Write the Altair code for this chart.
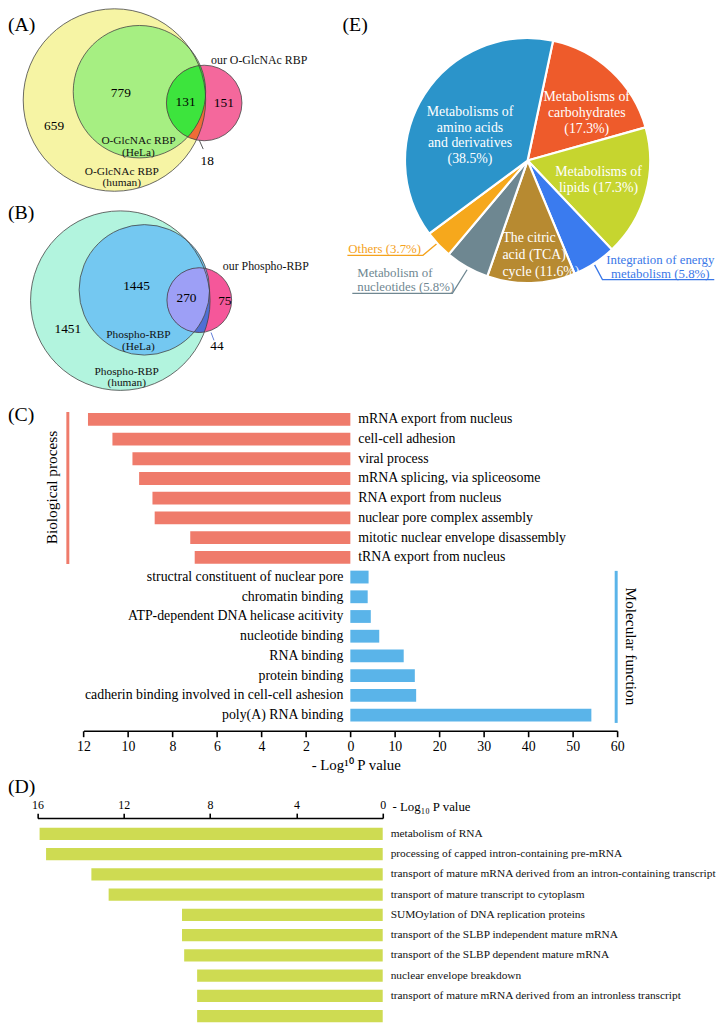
import altair as alt
import numpy as np
import pandas as pd

# ---------------- data ----------------
venn_a_counts = [659, 779, 131, 151, 18]
venn_a_names = ["O-GlcNAc RBP\n(human)", "O-GlcNAc RBP\n(HeLa)", "our O-GlcNAc RBP"]
venn_b_counts = [1451, 1445, 270, 75, 44]
venn_b_names = ["Phospho-RBP\n(human)", "Phospho-RBP\n(HeLa)", "our Phospho-RBP"]

pie_pct = [17.3, 17.3, 5.8, 11.6, 5.8, 3.7, 38.5]
pie_text = [
    "Metabolisms of\ncarbohydrates\n({p}%)",
    "Metabolisms of\nlipids ({p}%)",
    "Integration of energy\nmetabolism ({p}%)",
    "The citric\nacid (TCA)\ncycle ({p}%)",
    "Metabolism of\nnucleotides ({p}%)",
    "Others ({p}%)",
    "Metabolisms of\namino acids\nand derivatives\n({p}%)",
]
pie_colors = ["#EE5B2B", "#C6D52F", "#3A7BEF", "#B78A31", "#6E8791", "#F6A81C", "#2B94CA"]

bp_terms = ["mRNA export from nucleus", "cell-cell adhesion", "viral process",
            "mRNA splicing, via spliceosome", "RNA export from nucleus",
            "nuclear pore complex assembly", "mitotic nuclear envelope disassembly",
            "tRNA export from nucleus"]
bp_vals = [11.8, 10.7, 9.8, 9.5, 8.9, 8.8, 7.2, 7.0]
mf_terms = ["structral constituent of nuclear pore", "chromatin binding",
            "ATP-dependent DNA helicase acitivity", "nucleotide binding", "RNA binding",
            "protein binding", "cadherin binding involved in cell-cell ashesion",
            "poly(A) RNA binding"]
mf_vals = [4.1, 3.9, 4.6, 6.5, 12.0, 14.5, 14.8, 54.2]
c_ticks_left = [12, 10, 8, 6, 4, 2, 0]
c_ticks_right = [10, 20, 30, 40, 50, 60]
c_title = "- Log\u00b9\u2070 P value"

d_terms = ["metabolism of RNA", "processing of capped intron-containing pre-mRNA",
           "transport of mature mRNA derived from an intron-containing transcript",
           "transport of mature transcript to cytoplasm",
           "SUMOylation of DNA replication proteins",
           "transport of the SLBP independent mature mRNA",
           "transport of the SLBP dependent mature mRNA",
           "nuclear envelope breakdown",
           "transport of mature mRNA derived from an intronless transcript",
           ""]
d_vals = [15.9, 15.6, 13.5, 12.7, 9.3, 9.3, 9.2, 8.6, 8.6, 8.6]
d_ticks = [16, 12, 8, 4, 0]
d_title = "- Log\u2081\u2080 P value"

# ---------------- layout (pixels of the reference picture) ----------------
W, H = 717, 1024
K, O = 0.992, 2.0
SERIF = "Liberation Serif"
PXS = alt.Scale(domain=[O, O + W / K], range=[0, W], nice=False, zero=False)
PYS = alt.Scale(domain=[O, O + H / K], range=[0, H], nice=False, zero=False)


def X(v):
    return (v - O) * K


def Y(v):
    return (v - O) * K


circA = [(110.5, 90.0, 93.0, "#F6F4A4"), (136.0, 81.5, 67.5, "#A6EF82"), (202.0, 93.0, 38.5, "#F4689C")]
circB = [(116.5, 294.5, 91.5, "#B2F4DE"), (141.0, 283.5, 66.5, "#74C8F1"), (197.0, 294.0, 33.0, "#F5579A")]
lenses = [(circA[2], circA[0], "#EF6B37"), (circA[2], circA[1], "#3DE43D"),
          (circB[2], circB[0], "#4F6FD4"), (circB[2], circB[1], "#9D9FF6")]

a_num_pos = [(49, 117), (117, 83), (183, 92), (222, 93), (205, 152)]
b_num_pos = [(63, 323), (133, 280), (184, 292), (223, 295), (215, 341)]
pie_center = (531.7, 151.7)
pie_r = 125
pie_start = np.deg2rad(12.0)
pie_lab = [  # x, y (block centre), align, lineHeight, size, color
    (592, 103, "center", 16, 14, "white"),
    (604, 171.5, "center", 17, 14, "white"),
    (667, 260, "center", 14, 13, "#3A78E8"),
    (506, 248, "left", 17.5, 14, "white"),
    (358, 273.5, "left", 13.5, 13, "#6F8791"),
    (386, 242, "center", 13, 13, "#F5A21C"),
    (473, 126, "center", 16, 14, "white"),
]
leaders = [
    ([(197, 131), (201, 140)], "#444444", 0.9),
    ([(209, 327), (212, 335)], "#4F6FD4", 0.9),
    ([(348, 248.3), (425, 248.3), (447, 230)], "#F5A21C", 1.3),
    ([(353, 287), (455, 287), (470, 263)], "#6F8791", 1.3),
    ([(722, 273), (608, 273), (600, 258)], "#3A78E8", 1.3),
]

# ---------------- helpers ----------------
def lens_df(c1, c2, step=0.25):
    x1, y1, r1, _ = c1
    x2, y2, r2, _ = c2
    xs = np.arange(max(x1 - r1, x2 - r2), min(x1 + r1, x2 + r2) + step, step)
    d1 = np.sqrt(np.clip(r1 ** 2 - (xs - x1) ** 2, 0, None))
    d2 = np.sqrt(np.clip(r2 ** 2 - (xs - x2) ** 2, 0, None))
    top = np.maximum(y1 - d1, y2 - d2)
    bot = np.minimum(y1 + d1, y2 + d2)
    m = top < bot
    return pd.DataFrame({"x": xs[m], "top": top[m], "bot": bot[m]})


def pos(df_x="x", df_y="y"):
    return dict(x=alt.X(f"{df_x}:Q", scale=PXS, axis=None),
                y=alt.Y(f"{df_y}:Q", scale=PYS, axis=None))


layers = []

# ---- Venn circles ----
circ_df = pd.DataFrame([{"x": c[0], "y": c[1], "s": (2 * c[2] * K) ** 2, "fill": c[3]}
                        for c in circA + circB])
layers.append(alt.Chart(circ_df).mark_point(shape="circle", filled=True, opacity=1, strokeWidth=0).encode(
    **pos(), size=alt.Size("s:Q", scale=None, legend=None),
    color=alt.Color("fill:N", scale=None, legend=None)))
for c1, c2, col in lenses:
    layers.append(alt.Chart(lens_df(c1, c2)).mark_area(color=col, opacity=1).encode(
        x=alt.X("x:Q", scale=PXS, axis=None),
        y=alt.Y("top:Q", scale=PYS, axis=None), y2="bot:Q"))
layers.append(alt.Chart(circ_df).mark_point(shape="circle", filled=False, opacity=1,
                                            strokeWidth=0.8, color="#444444").encode(
    **pos(), size=alt.Size("s:Q", scale=None, legend=None)))

# ---- leader lines ----
for pts, col, w in leaders:
    ldf = pd.DataFrame({"x": [p[0] for p in pts], "y": [p[1] for p in pts], "o": range(len(pts))})
    layers.append(alt.Chart(ldf).mark_line(color=col, strokeWidth=w).encode(**pos(), order="o:Q"))

# ---- pie ----
pie_df = pd.DataFrame({"pct": pie_pct, "col": pie_colors, "idx": range(len(pie_pct)),
                       "x": pie_center[0], "y": pie_center[1]})
layers.append(alt.Chart(pie_df).mark_arc(outerRadius=pie_r * K, stroke="white", strokeWidth=2.2).encode(
    **pos(),
    theta=alt.Theta("pct:Q", stack=True,
                    scale=alt.Scale(domain=[0, 100], range=[pie_start, pie_start + 2 * np.pi])),
    order=alt.Order("idx:Q"),
    color=alt.Color("col:N", scale=None, legend=None)))

# ---- text items ----
texts = []  # x, y, text, size, color, align, lh, angle


def T(x, y, s, size, color="black", align="center", lh=None, angle=0):
    lh = lh if lh else round(size * 1.15, 1)
    n = s.count("\n") + 1
    y0 = y - (n - 1) * lh / 2.0  # y is the centre of the whole block
    texts.append(dict(x=x, y=y0, text=s, size=size, color=color, align=align, lh=lh, angle=angle))


for n, (x, y) in zip(venn_a_counts, a_num_pos):
    T(x, y, str(n), 13.5)
for n, (x, y) in zip(venn_b_counts, b_num_pos):
    T(x, y, str(n), 13.5)
T(118, 169, venn_a_names[0], 11.5, "#111111", lh=11.5)
T(135, 138, venn_a_names[1], 11.5, "#111111", lh=11.5)
T(209, 49, venn_a_names[2], 12, "#111111", "left")
T(123, 373, venn_b_names[0], 11.5, "#111111", lh=11.5)
T(135, 335.5, venn_b_names[1], 11.5, "#111111", lh=11.5)
T(221, 259, venn_b_names[2], 12, "#111111", "left")
for (x, y, al, lh, sz, col), t, p in zip(pie_lab, pie_text, pie_pct):
    T(x, y, t.format(p=p), sz, col, al, lh)
T(2, 14, "(A)", 20, align="left")
T(2, 205, "(B)", 20, align="left")
T(343, 14, "(E)", 20, align="left")
T(2, 411, "(C)", 20, align="left")
T(2, 790, "(D)", 20, align="left")
T(46.5, 485, "Biological process", 15.5, angle=270)
T(637, 647, "Molecular function", 15.5, angle=90)
T(357, 768, c_title, 15)
T(394, 811, d_title, 13, align="left")

tdf = pd.DataFrame(texts)
for (al, lh, ang), g in tdf.groupby(["align", "lh", "angle"]):
    kw = dict(align=al, baseline="middle", font=SERIF, lineBreak="\n", lineHeight=float(lh))
    if ang:
        kw["angle"] = float(ang)
    layers.append(alt.Chart(g.reset_index(drop=True)).mark_text(**kw).encode(
        **pos(), text="text:N",
        size=alt.Size("size:Q", scale=None, legend=None),
        color=alt.Color("color:N", scale=None, legend=None)))

# ---- panel C ----
ax_common = dict(domainColor="black", domainWidth=1.6, tickColor="black", tickWidth=1.6,
                 labelColor="black", labelFont=SERIF, grid=False, title=None,
                 labelOverlap=False, labelFlush=False)
cy = alt.Scale(domain=bp_terms + mf_terms, range=[Y(405.45), Y(727.05)],
               paddingInner=0.35, paddingOuter=0.175)
bpx = alt.Scale(domain=[12, 0], range=[X(79), X(351)], nice=False)
mfx = alt.Scale(domain=[0, 60], range=[X(351), X(623)], nice=False)
bp_df = pd.DataFrame({"term": bp_terms, "val": bp_vals, "zero": 0.0})
mf_df = pd.DataFrame({"term": mf_terms, "val": mf_vals, "zero": 0.0})

layers.append(alt.Chart(bp_df).mark_bar(color="#EF7B6B").encode(
    x=alt.X("val:Q", scale=bpx, axis=alt.Axis(orient="bottom", offset=Y(733) - H, values=c_ticks_left,
                                              tickSize=6, labelFontSize=14, labelPadding=3, **ax_common)),
    y=alt.Y("term:N", scale=cy, axis=None)))
layers.append(alt.Chart(mf_df).mark_bar(color="#5AB4E9").encode(
    x=alt.X("val:Q", scale=mfx, axis=alt.Axis(orient="bottom", offset=Y(733) - H, values=c_ticks_right,
                                              tickSize=6, labelFontSize=14, labelPadding=3, **ax_common)),
    y=alt.Y("term:N", scale=cy, axis=None)))
layers.append(alt.Chart(bp_df).mark_text(align="left", baseline="middle", dx=8, font=SERIF,
                                         fontSize=14, color="black").encode(
    x=alt.X("zero:Q", scale=bpx, axis=None), y=alt.Y("term:N", scale=cy, axis=None), text="term:N"))
layers.append(alt.Chart(mf_df).mark_text(align="right", baseline="middle", dx=-7, font=SERIF,
                                         fontSize=14, color="black").encode(
    x=alt.X("zero:Q", scale=mfx, axis=None), y=alt.Y("term:N", scale=cy, axis=None), text="term:N"))
side_df = pd.DataFrame({"x": [63, 622], "y": [408, 570], "y2": [563, 725], "col": ["#EF7B6B", "#5AB4E9"]})
layers.append(alt.Chart(side_df).mark_rule(strokeWidth=3).encode(
    **pos(), y2="y2:Q", color=alt.Color("col:N", scale=None, legend=None)))

# ---- panel D ----
d_keys = [f"k{i:02d}" for i in range(len(d_terms))]
d_df = pd.DataFrame({"key": d_keys, "label": d_terms, "val": d_vals, "zero": 0.0})
dys = alt.Scale(domain=d_keys, range=[Y(827.7), Y(1034.3)], paddingInner=0.4, paddingOuter=0.2)
dxs = alt.Scale(domain=[16, 0], range=[X(32), X(384)], nice=False)
layers.append(alt.Chart(d_df).mark_bar(color="#CEDB52").encode(
    x=alt.X("val:Q", scale=dxs, axis=alt.Axis(orient="top", offset=-Y(822), values=d_ticks,
                                              tickSize=5, labelFontSize=12, labelPadding=2, **ax_common)),
    y=alt.Y("key:N", scale=dys, axis=None)))
layers.append(alt.Chart(d_df).mark_text(align="left", baseline="middle", dx=8, font=SERIF,
                                        fontSize=11.5, color="#111111").encode(
    x=alt.X("zero:Q", scale=dxs, axis=None), y=alt.Y("key:N", scale=dys, axis=None), text="label:N"))

chart = alt.layer(*layers).resolve_scale(
    x="independent", y="independent", color="independent", size="independent", theta="independent"
).properties(
    width=W, height=H, autosize=alt.AutoSizeParams(type="none"), padding=0
).configure_view(stroke=None)

chart.save("out.html", embed_options={"renderer": "svg", "actions": False})
